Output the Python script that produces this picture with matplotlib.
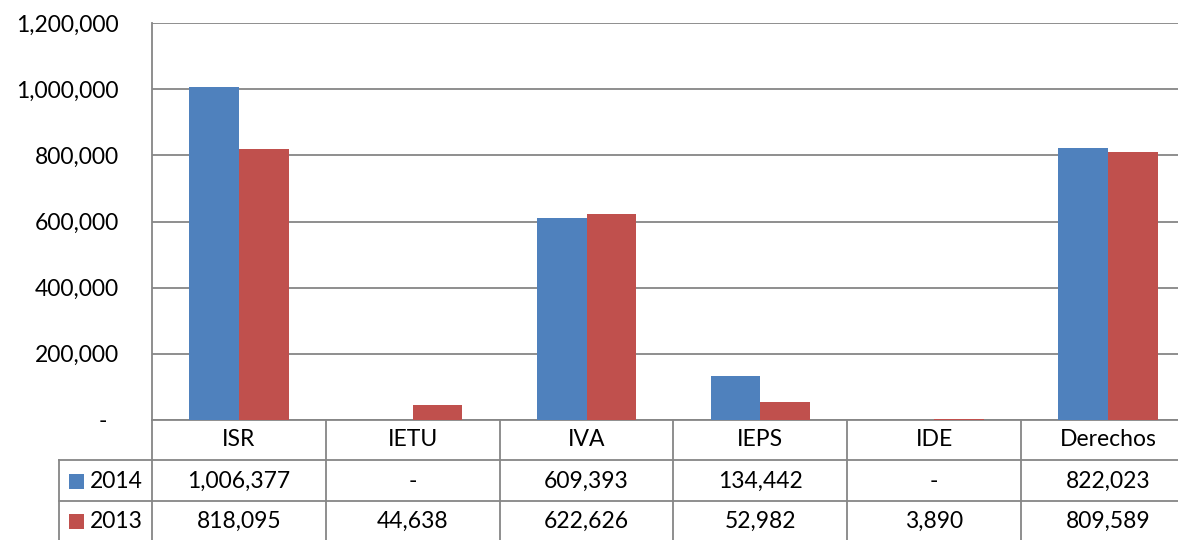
import matplotlib
matplotlib.use("Agg")
import matplotlib.pyplot as plt
from matplotlib.patches import Rectangle

categories = ["ISR", "IETU", "IVA", "IEPS", "IDE", "Derechos"]
series_names = ["2014", "2013"]
values_2014 = [1006377, 0, 609393, 134442, 0, 822023]
values_2013 = [818095, 44638, 622626, 52982, 3890, 809589]
yticks = [0, 200000, 400000, 600000, 800000, 1000000, 1200000]

colors = ["#4F81BD", "#C0504D"]
grid_c = "#868686"
FONT = "Lato"
FS = 16.5

def fmt(v):
    return "-" if v == 0 else f"{v:,.0f}"

W, H = 1178, 540
fig = plt.figure(figsize=(W / 100, H / 100), dpi=100)
fig.patch.set_facecolor("white")

L, R, T, B = 152, 1195, 23, 420
ax = fig.add_axes([L / W, 1 - B / H, (R - L) / W, (B - T) / H])
n = len(categories)
x = list(range(n))
bw = 0.286
ax.bar([i - bw / 2 for i in x], values_2014, bw, color=colors[0], zorder=3)
ax.bar([i + bw / 2 for i in x], values_2013, bw, color=colors[1], zorder=3)
ax.set_xlim(-0.5, n - 0.5)
ax.set_ylim(0, 1200000)
ax.set_yticks(yticks)
ax.set_yticklabels([("-  " if v == 0 else f"{v:,.0f}") for v in yticks],
                   fontfamily=FONT, fontsize=FS)
ax.set_xticks([])
ax.tick_params(axis="y", length=0, pad=24, labelcolor="black")
ax.grid(axis="y", color=grid_c, linewidth=1.3, zorder=0)
for s in ["top", "right"]:
    ax.spines[s].set_visible(False)
for s in ["left", "bottom"]:
    ax.spines[s].set_color(grid_c)
    ax.spines[s].set_linewidth(1.3)
    ax.spines[s].set_zorder(1)

# data table
tb = fig.add_axes([L / W, 0, (R - L) / W, (H - B) / H])
tb.set_xlim(-0.5, n - 0.5)
tb.set_ylim(H, B)
tb.axis("off")
unit = (R - L) / n
leg_left = -0.5 - (L - 59) / unit
rows_y = [460, 501, 541]
lw = 1.3
for yy in rows_y:
    tb.plot([leg_left, n - 0.5], [yy, yy], color=grid_c, lw=lw, clip_on=False)
for k in range(n + 1):
    tb.plot([k - 0.5, k - 0.5], [421, 541], color=grid_c, lw=lw, clip_on=False)
tb.plot([leg_left, leg_left], [460, 541], color=grid_c, lw=lw, clip_on=False)

for i, c in enumerate(categories):
    tb.text(i, 440, c, ha="center", va="center", fontfamily=FONT, fontsize=FS)
    tb.text(i, 481, fmt(values_2014[i]), ha="center", va="center", fontfamily=FONT, fontsize=FS)
    tb.text(i, 521, fmt(values_2013[i]), ha="center", va="center", fontfamily=FONT, fontsize=FS)

for j, (name, cy) in enumerate(zip(series_names, [481, 521])):
    sq = 15 / unit
    tb.add_patch(Rectangle((leg_left + 10 / unit, cy - 7.5), sq, 15,
                           facecolor=colors[j], edgecolor="none", clip_on=False))
    tb.text(leg_left + 31 / unit, cy, name, ha="left", va="center",
            fontfamily=FONT, fontsize=FS)

fig.savefig("out.png", dpi=100, facecolor="white")
